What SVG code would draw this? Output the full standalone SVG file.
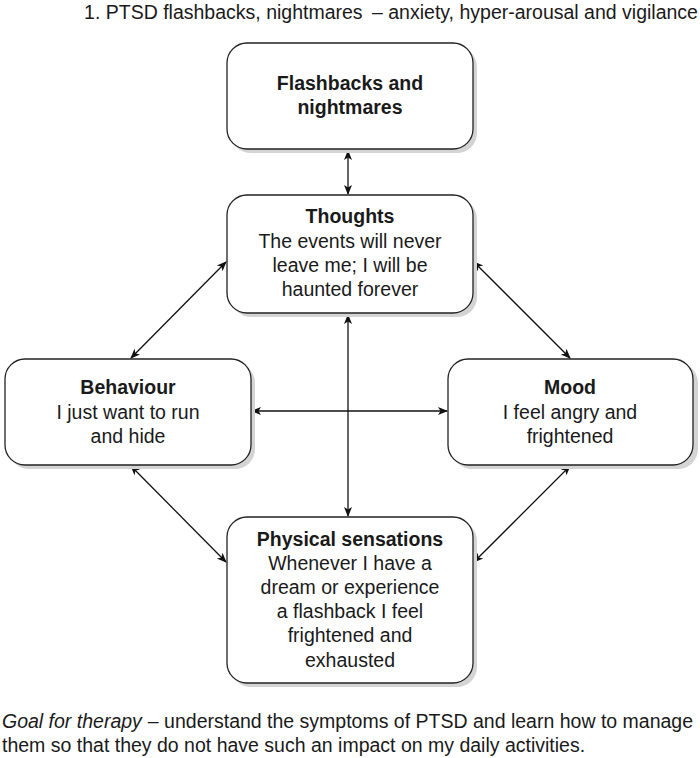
<svg xmlns="http://www.w3.org/2000/svg" width="700" height="758" viewBox="0 0 700 758">
<defs>
<style>
text{font-family:"Liberation Sans",Arial,sans-serif;font-size:19.5px;fill:#1a1a1a;text-anchor:middle}
.b{font-weight:bold}
.box{fill:#fff;stroke:#222;stroke-width:1.3}
.sh{fill:#d4d4d4}
.c{stroke:#111;stroke-width:1.3;fill:none;marker-start:url(#ah);marker-end:url(#ah)}
.l{text-anchor:start}
</style>
<marker id="ah" viewBox="0 0 10 10" refX="9" refY="5" markerWidth="10" markerHeight="10" markerUnits="userSpaceOnUse" orient="auto-start-reverse">
<path d="M0,1 L10,5 L0,9 L2.5,5 Z" fill="#111"/>
</marker>
</defs>
<rect width="700" height="758" fill="#fff"/>
<text x="391" y="19" font-size="17.7">1. PTSD flashbacks, nightmares <tspan dx="4">– anxiety, hyper-arousal and vigilance</tspan></text>
<g id="connectors">
<line class="c" x1="348" y1="151" x2="348" y2="194"/>
<line class="c" x1="348" y1="315" x2="348" y2="516"/>
<line class="c" x1="252" y1="411" x2="447" y2="411"/>
<line class="c" x1="226" y1="262" x2="131" y2="358"/>
<line class="c" x1="474" y1="262" x2="570" y2="358"/>
<line class="c" x1="131" y1="466" x2="226" y2="562"/>
<line class="c" x1="570" y1="466" x2="474" y2="562"/>
</g>
<g id="flashbacks">
<rect class="sh" x="231" y="47" width="246" height="106" rx="20"/>
<rect class="box" x="227" y="43" width="246" height="106" rx="20"/>
<text class="b" x="350" y="90">Flashbacks and</text>
<text class="b" x="350" y="114">nightmares</text>
</g>
<g id="thoughts">
<rect class="sh" x="231" y="199" width="246" height="118" rx="20"/>
<rect class="box" x="227" y="195" width="246" height="118" rx="20"/>
<text class="b" x="350" y="223">Thoughts</text>
<text x="350" y="248">The events will never</text>
<text x="350" y="272">leave me; I will be</text>
<text x="350" y="296">haunted forever</text>
</g>
<g id="behaviour">
<rect class="sh" x="9" y="363" width="246" height="106" rx="20"/>
<rect class="box" x="5" y="359" width="246" height="106" rx="20"/>
<text class="b" x="128" y="394">Behaviour</text>
<text x="128" y="419">I just want to run</text>
<text x="128" y="443">and hide</text>
</g>
<g id="mood">
<rect class="sh" x="452" y="363" width="246" height="106" rx="20"/>
<rect class="box" x="448" y="359" width="245" height="106" rx="20"/>
<text class="b" x="570" y="394">Mood</text>
<text x="570" y="419">I feel angry and</text>
<text x="570" y="443">frightened</text>
</g>
<g id="physical">
<rect class="sh" x="231" y="521" width="246" height="166" rx="20"/>
<rect class="box" x="227" y="517" width="246" height="166" rx="20"/>
<text class="b" x="350" y="546">Physical sensations</text>
<text x="350" y="570">Whenever I have a</text>
<text x="350" y="594">dream or experience</text>
<text x="350" y="618">a flashback I feel</text>
<text x="350" y="642">frightened and</text>
<text x="350" y="667">exhausted</text>
</g>
<text class="l" x="2" y="728"><tspan font-style="italic">Goal for therapy</tspan><tspan dx="6">– understand the symptoms of PTSD and learn how to manage</tspan></text>
<text class="l" x="2" y="752">them so that they do not have such an impact on my daily activities.</text>
</svg>
